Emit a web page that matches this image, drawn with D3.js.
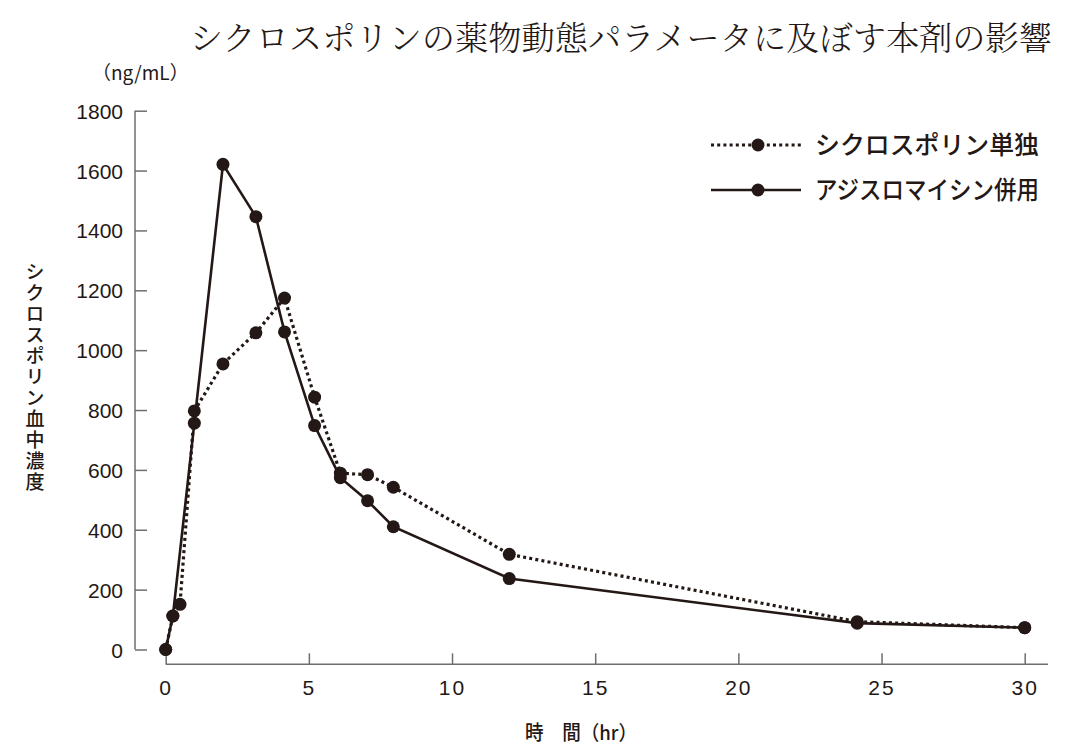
<!DOCTYPE html>
<html>
<head>
<meta charset="utf-8">
<script src="https://cdn.jsdelivr.net/npm/d3@7"></script>
<style>
  body { margin: 0; background: #fff; }
  svg { display: block; }
</style>
</head>
<body>
<script>
// data (hours, ng/mL)
var times = [0, 0.25, 0.5, 1, 2, 3.15, 4.15, 5.2, 6.1, 7.05, 7.95, 12, 24.15, 30];
var aloneValues = [0, 112, 151, 797, 954, 1058, 1174, 843, 589, 584, 542, 318, 93, 73];
var comboValues = [0, 112, null, 756, 1621, 1446, 1061, 748, 574, 497, 410, 237, 88, 73];
var seriesNames = ["シクロスポリン単独", "アジスロマイシン併用"];
var xTicks = [0, 5, 10, 15, 20, 25, 30];
var yTicks = [0, 200, 400, 600, 800, 1000, 1200, 1400, 1600, 1800];

var width = 1090, height = 756;
var ink = "#231815", axisColor = "#6e6e6e";
var latin = "'Liberation Sans', Arial, sans-serif";
var cjk = "'Noto Sans CJK JP', sans-serif";

var svg = d3.select("body").append("svg")
    .attr("width", width)
    .attr("height", height);

// set the ranges
var x = d3.scaleLinear().domain([0, 30]).range([165.7, 1024.7]);
var y = d3.scaleLinear().domain([0, 1800]).range([649.5, 110.7]);

// y axis, ticks pointing inward
var yAxis = svg.append("g")
    .attr("transform", "translate(135,0)")
    .call(d3.axisRight(y).tickValues(yTicks).tickSize(12).tickFormat(""));
yAxis.select(".domain").attr("d", "M0," + y(1800) + "V" + y(0));
yAxis.selectAll("line, path").attr("stroke", axisColor).attr("stroke-width", 1.5);
yAxis.selectAll(".tick").append("text")
    .attr("x", -12)
    .attr("dy", "0.36em")
    .attr("text-anchor", "end")
    .attr("fill", ink)
    .attr("font-family", latin)
    .attr("font-size", 21)
    .text(function(d) { return d; });

// x axis, ticks pointing up
var xAxis = svg.append("g")
    .attr("transform", "translate(0,664.3)")
    .call(d3.axisTop(x).tickValues(xTicks).tickSize(11).tickFormat(""));
xAxis.select(".domain").attr("d", "M" + x(0) + ",0H1048");
xAxis.selectAll("line, path").attr("stroke", axisColor).attr("stroke-width", 1.5);
xAxis.selectAll(".tick").append("text")
    .attr("y", 31)
    .attr("text-anchor", "middle")
    .attr("fill", ink)
    .attr("font-family", latin)
    .attr("font-size", 21)
    .attr("letter-spacing", 2)
    .text(function(d) { return d; });

// build point lists, skipping missing readings
function points(vals) {
  return times.map(function(t, i) { return {t: t, v: vals[i]}; })
              .filter(function(d) { return d.v !== null; });
}
var line = d3.line()
    .x(function(d) { return x(d.t); })
    .y(function(d) { return y(d.v); });

var series = [
  {name: seriesNames[0], pts: points(aloneValues), dash: "3,3.2", w: 3.2},
  {name: seriesNames[1], pts: points(comboValues), dash: null, w: 2.6}
];

series.forEach(function(s) {
  svg.append("path")
      .datum(s.pts)
      .attr("fill", "none")
      .attr("stroke", ink)
      .attr("stroke-width", s.w)
      .attr("stroke-dasharray", s.dash)
      .attr("d", line);
});
series.forEach(function(s) {
  svg.append("g").selectAll("circle")
      .data(s.pts)
      .enter().append("circle")
      .attr("cx", function(d) { return x(d.t); })
      .attr("cy", function(d) { return y(d.v); })
      .attr("r", 6.5)
      .attr("fill", ink);
});

// legend
var legend = svg.append("g");
series.forEach(function(s, i) {
  var ly = 145 + i * 45;
  legend.append("line")
      .attr("x1", 711).attr("x2", 801)
      .attr("y1", ly).attr("y2", ly)
      .attr("stroke", ink)
      .attr("stroke-width", i == 0 ? 3 : 2.6)
      .attr("stroke-dasharray", s.dash);
  legend.append("circle")
      .attr("cx", 758).attr("cy", ly).attr("r", 6.5)
      .attr("fill", ink);
  legend.append("text")
      .attr("x", 815).attr("y", ly + 9)
      .attr("font-family", cjk)
      .attr("font-weight", 500)
      .attr("font-size", 25)
      .attr("fill", ink)
      .attr("textLength", 224)
      .attr("lengthAdjust", "spacingAndGlyphs")
      .text(s.name);
});

// title
svg.append("text")
    .attr("x", 621).attr("y", 50)
    .attr("text-anchor", "middle")
    .attr("font-family", "'Noto Serif CJK JP', 'Noto Sans CJK JP', serif")
    .attr("font-weight", 300)
    .attr("font-size", 33)
    .attr("fill", ink)
    .attr("textLength", 862)
    .attr("lengthAdjust", "spacingAndGlyphs")
    .text("シクロスポリンの薬物動態パラメータに及ぼす本剤の影響");

// unit
svg.append("text")
    .attr("x", 92).attr("y", 80)
    .attr("font-family", cjk)
    .attr("font-size", 19)
    .attr("fill", ink)
    .text("（ng/mL）");

// vertical y label, upright characters in one text
svg.append("text")
    .attr("x", 35)
    .attr("y", 262)
    .style("writing-mode", "vertical-rl")
    .style("text-orientation", "upright")
    .attr("letter-spacing", 2)
    .attr("font-family", cjk)
    .attr("font-weight", 500)
    .attr("font-size", 19)
    .attr("fill", ink)
    .text("シクロスポリン血中濃度");

// x label
svg.append("text")
    .attr("x", 525).attr("y", 740)
    .attr("font-family", cjk)
    .attr("font-weight", 500)
    .attr("font-size", 20)
    .attr("fill", ink)
    .attr("textLength", 112)
    .attr("lengthAdjust", "spacingAndGlyphs")
    .text("時　間（hr）");
</script>
</body>
</html>
